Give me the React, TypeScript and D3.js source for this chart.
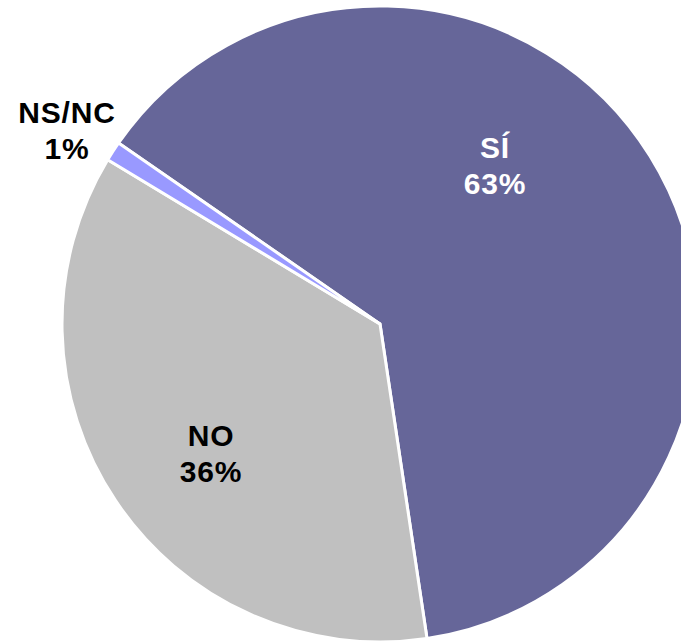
import React from "react";
import * as d3 from "d3";

const categories = ["SÍ", "NO", "NS/NC"];
const values = [63, 36, 1];
const labels = ["63%", "36%", "1%"];
const colors = ["#666699", "#C0C0C0", "#9999FF"];
const textColors = ["#ffffff", "#000000", "#000000"];

const W = 681;
const H = 642;
const cx = 380;
const cy = 324;
const R = 318;

export default function App() {
  const pie = d3
    .pie<number>()
    .sort(null)
    .value((d) => d)
    .startAngle((-55.3 * Math.PI) / 180)
    .endAngle(((360 - 55.3) * Math.PI) / 180);
  const arcs = pie(values);
  const arc = d3.arc<d3.PieArcDatum<number>>().innerRadius(0).outerRadius(R);

  const labelPos = [
    { x: 495 - cx, y: 158 - cy },
    { x: 211 - cx, y: 446 - cy },
    { x: 67 - cx, y: 123 - cy },
  ];

  return (
    <svg
      width={W}
      height={H}
      style={{ position: "absolute", left: 0, top: 0, background: "#fff" }}
      fontFamily="'Liberation Sans', Arial, Helvetica, sans-serif"
    >
      <g transform={`translate(${cx},${cy})`}>
        {arcs.map((a, i) => (
          <path
            key={categories[i]}
            d={arc(a) || ""}
            fill={colors[i]}
            stroke="#ffffff"
            strokeWidth={3}
            strokeLinejoin="miter"
          />
        ))}
        {arcs.map((a, i) => (
          <text
            key={"t" + i}
            x={labelPos[i].x}
            y={labelPos[i].y}
            textAnchor="middle"
            fontWeight="bold"
            fontSize={30}
            letterSpacing={0.8}
            fill={textColors[i]}
          >
            <tspan x={labelPos[i].x}>{categories[i]}</tspan>
            <tspan x={labelPos[i].x} dy={36}>
              {labels[i]}
            </tspan>
          </text>
        ))}
      </g>
    </svg>
  );
}
